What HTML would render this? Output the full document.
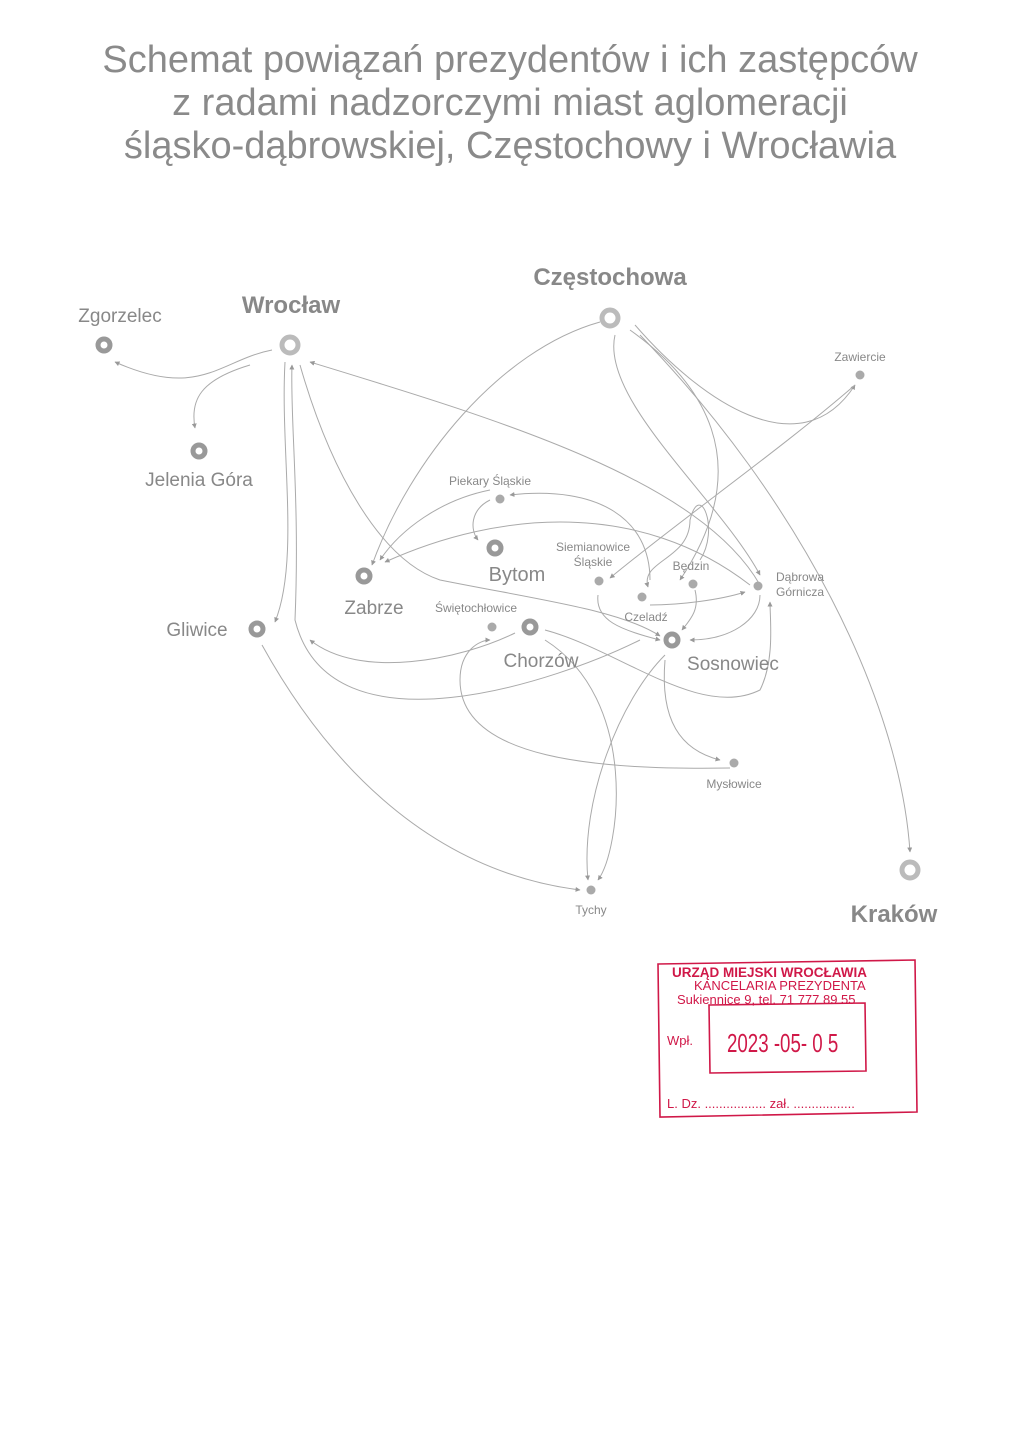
<!DOCTYPE html>
<html><head><meta charset="utf-8"><style>
html,body{margin:0;padding:0;background:#fff;}
body{width:1022px;height:1440px;position:relative;overflow:hidden;font-family:"Liberation Sans",sans-serif;}
</style></head><body>
<svg width="1022" height="1440" viewBox="0 0 1022 1440" xmlns="http://www.w3.org/2000/svg" style="position:absolute;left:0;top:0">
<defs>
<marker id="a" viewBox="0 0 10 10" refX="9" refY="5" markerWidth="5" markerHeight="5" orient="auto"><path d="M0,0L10,5L0,10z" fill="#999"/></marker>
</defs>
<g font-family="Liberation Sans, sans-serif" fill="#8a8a8a" text-anchor="middle" font-size="38">
<text x="510" y="72">Schemat powiązań prezydentów i ich zastępców</text>
<text x="510" y="115">z radami nadzorczymi miast aglomeracji</text>
<text x="510" y="158">śląsko-dąbrowskiej, Częstochowy i Wrocławia</text>
</g>
<g fill="none" stroke="#aaa" stroke-width="1" marker-end="url(#a)">
<path d="M272,350 C220,360 200,400 115,362"/>
<path d="M250,365 C200,380 190,400 195,428"/>
<path d="M285,362 C280,450 300,560 275,622"/>
<path d="M300,365 C330,470 380,560 440,580 C540,600 620,610 660,636"/>
<path d="M640,640 C560,680 330,760 295,620 C300,500 290,420 292,365"/>
<path d="M760,585 C700,480 500,420 310,362"/>
<path d="M600,322 C500,350 410,460 372,565"/>
<path d="M615,335 C600,400 720,500 760,575"/>
<path d="M630,330 C700,380 760,460 680,580"/>
<path d="M635,325 C700,400 800,470 855,385"/>
<path d="M855,385 C780,450 680,520 610,578"/>
<path d="M640,335 C800,500 900,700 910,852"/>
<path d="M490,490 C440,500 400,530 380,560"/>
<path d="M490,500 C470,510 470,530 478,540"/>
<path d="M650,580 C650,520 600,485 510,495"/>
<path d="M750,585 C640,500 500,510 385,562"/>
<path d="M598,595 C595,620 620,630 660,640"/>
<path d="M650,605 C680,605 720,600 745,592"/>
<path d="M695,590 C700,610 690,620 682,630"/>
<path d="M760,595 C760,620 730,640 690,640"/>
<path d="M700,560 C720,530 700,480 690,520 C690,560 640,560 648,587"/>
<path d="M515,633 C460,660 360,680 310,640"/>
<path d="M545,630 C620,650 700,720 760,690 C775,660 770,620 770,602"/>
<path d="M545,640 C640,700 620,850 598,880"/>
<path d="M665,655 C620,700 580,800 588,880"/>
<path d="M665,660 C660,720 680,750 720,760"/>
<path d="M730,768 C600,770 460,760 460,680 C460,650 480,640 490,640"/>
<path d="M262,645 C320,750 420,870 580,890"/>
</g>
<g fill="none" stroke="#999" stroke-width="5">
<circle cx="290" cy="345" r="8" stroke="#bbb"/>
<circle cx="104" cy="345" r="6"/>
<circle cx="199" cy="451" r="6"/>
<circle cx="610" cy="318" r="8" stroke="#bbb"/>
<circle cx="910" cy="870" r="8" stroke="#bbb"/>
<circle cx="495" cy="548" r="6"/>
<circle cx="364" cy="576" r="6"/>
<circle cx="530" cy="627" r="6"/>
<circle cx="672" cy="640" r="6"/>
<circle cx="257" cy="629" r="6"/>
</g>
<g fill="#aaa">
<circle cx="860" cy="375" r="4.5"/><circle cx="500" cy="499" r="4.5"/><circle cx="599" cy="581" r="4.5"/>
<circle cx="642" cy="597" r="4.5"/><circle cx="693" cy="584" r="4.5"/><circle cx="758" cy="586" r="4.5"/>
<circle cx="492" cy="627" r="4.5"/><circle cx="734" cy="763" r="4.5"/><circle cx="591" cy="890" r="4.5"/>
</g>
<g font-family="Liberation Sans, sans-serif" fill="#888">
<text x="291" y="313" font-size="24" font-weight="bold" text-anchor="middle">Wrocław</text>
<text x="610" y="285" font-size="24" font-weight="bold" text-anchor="middle">Częstochowa</text>
<text x="894" y="922" font-size="24" font-weight="bold" text-anchor="middle">Kraków</text>
<text x="120" y="322" font-size="19" text-anchor="middle">Zgorzelec</text>
<text x="199" y="486" font-size="19" text-anchor="middle">Jelenia Góra</text>
<text x="197" y="636" font-size="19" text-anchor="middle">Gliwice</text>
<text x="374" y="614" font-size="19" text-anchor="middle">Zabrze</text>
<text x="517" y="581" font-size="20" text-anchor="middle">Bytom</text>
<text x="541" y="667" font-size="19" text-anchor="middle">Chorzów</text>
<text x="733" y="670" font-size="19" text-anchor="middle">Sosnowiec</text>
<g font-size="12" text-anchor="middle">
<text x="860" y="361">Zawiercie</text>
<text x="490" y="485">Piekary Śląskie</text>
<text x="593" y="551">Siemianowice</text>
<text x="593" y="566">Śląskie</text>
<text x="691" y="570">Będzin</text>
<text x="646" y="621">Czeladź</text>
<text x="476" y="612">Świętochłowice</text>
<text x="734" y="788">Mysłowice</text>
<text x="591" y="914">Tychy</text>
</g>
<text x="776" y="581" font-size="12">Dąbrowa</text>
<text x="776" y="596" font-size="12">Górnicza</text>
</g>
<g stroke="#d01848" fill="none" stroke-width="1.6">
<path d="M658,964 L915,960 L917,1112 L660,1117 Z"/>
<path d="M709,1005 L865,1003 L866,1071 L710,1073 Z"/>
</g>
<g fill="#d01848" font-family="Liberation Sans, sans-serif">
<text x="672" y="977" font-size="13.5" font-weight="bold">URZĄD MIEJSKI WROCŁAWIA</text>
<text x="694" y="990" font-size="13">KANCELARIA PREZYDENTA</text>
<text x="677" y="1004" font-size="13">Sukiennice 9, tel. 71 777 89 55</text>
<text x="667" y="1045" font-size="13">Wpł.</text>
<text transform="translate(727,1052) scale(0.72,1)" font-size="26">2023 -05- 0 5</text>
<text x="667" y="1108" font-size="13">L. Dz. ................. zał. .................</text>
</g>
</svg>
</body></html>
